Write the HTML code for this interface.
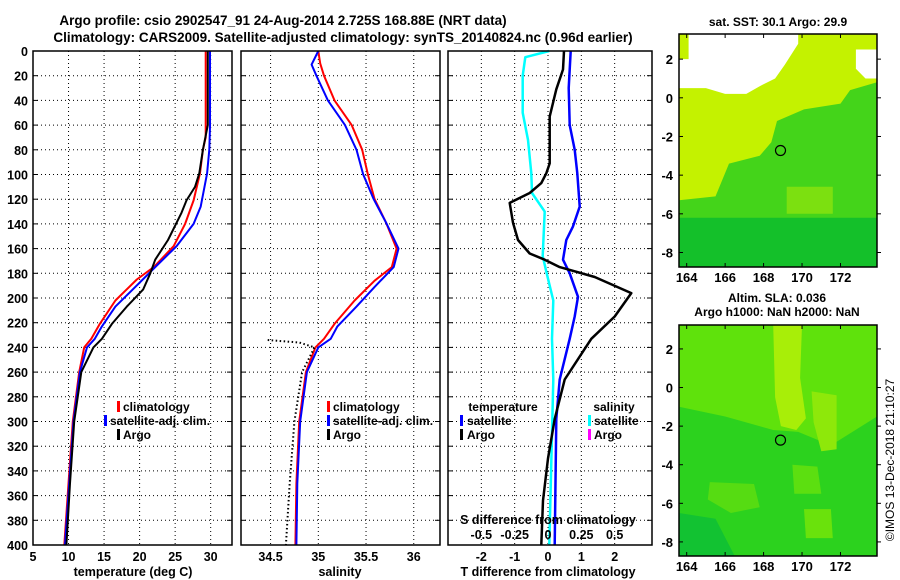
<!DOCTYPE html>
<html><head><meta charset="utf-8">
<style>
html,body{margin:0;padding:0;background:#fff;}
svg{display:block;font-family:"Liberation Sans",sans-serif;font-weight:bold;}
</style></head>
<body>
<svg id="fig" width="900" height="580" viewBox="0 0 900 580" xmlns="http://www.w3.org/2000/svg">
<text x="283" y="25" font-size="13.5" text-anchor="middle">Argo profile: csio 2902547_91 24-Aug-2014 2.725S 168.88E (NRT data)</text>
<text x="343" y="42" font-size="13.5" text-anchor="middle">Climatology: CARS2009. Satellite-adjusted climatology: synTS_20140824.nc (0.96d earlier)</text>
<text x="778" y="26" font-size="12" text-anchor="middle">sat. SST: 30.1 Argo: 29.9</text>
<text x="777" y="302" font-size="12" text-anchor="middle">Altim. SLA: 0.036</text>
<text x="777" y="316" font-size="12" text-anchor="middle">Argo h1000: NaN h2000: NaN</text>
<text x="0" y="0" font-size="12" font-weight="normal" text-anchor="middle" transform="translate(894,460) rotate(-90)">©IMOS 13-Dec-2018 21:10:27</text>
<g id="g"></g>
</svg>
<script>
// ---------- data ----------
const depthTicks = [0,20,40,60,80,100,120,140,160,180,200,220,240,260,280,300,320,340,360,380,400];
const tempTicks = [5,10,15,20,25,30];
const salTicks = [34.5,35,35.5,36];
const salTickLabels = ['34.5','35','35.5','36'];
const dTTicks = [-2,-1,0,1,2];
const dSTickLabels = ['-0.5','-0.25','0','0.25','0.5'];
const dSTicks = [-0.5,-0.25,0,0.25,0.5];
const lonTicks = [164,166,168,170,172];
const latTicks = [2,0,-2,-4,-6,-8];

const climTDepth = [0,70,80,99,121,140,158,175,185,202,221,233,240,260,300,350,400];
const climT = [29.3,29.3,28.9,28.5,27.6,26.4,24.8,22.0,19.6,16.6,14.4,13.2,12.2,11.5,10.6,10.0,9.4];
const satTDepth = [0,61,80,99,126,140,158,175,191,207,223,233,240,260,300,350,400];
const satT = [29.9,29.9,29.8,29.5,28.6,27.6,25.2,22.2,19.4,16.6,14.7,13.7,12.6,11.6,10.7,10.1,9.5];
const argoTDepth = [0,60,80,99,110,121,131,153,169,180,193,207,221,233,240,260,300,350,400];
const argoT = [29.6,29.6,28.9,28.4,27.8,26.6,25.9,24.0,22.2,21.5,20.5,18.2,16.1,14.7,13.5,11.8,10.8,10.2,9.7];

const climSDepth = [0,10,20,40,60,80,100,120,139,160,175,186,202,221,233,240,260,300,350,400];
const climS = [35.0,35.02,35.06,35.17,35.35,35.46,35.52,35.59,35.71,35.82,35.77,35.59,35.38,35.17,35.06,34.97,34.87,34.8,34.77,34.76];
const satSDepth = [0,11,20,40,60,80,100,120,139,160,175,191,207,223,233,240,260,300,350,400];
const satS = [35.0,34.93,34.98,35.1,35.28,35.4,35.47,35.58,35.71,35.84,35.79,35.59,35.4,35.2,35.13,35.0,34.88,34.81,34.78,34.77];
const argoSDepth = [234,236,240,260,300,350,400];
const argoS = [34.47,34.8,34.96,34.83,34.75,34.7,34.66];

const argoDTDepth = [0,15,31,53,91,99,107,115,123,139,153,164,169,175,183,196,215,233,266,298,330,364,400];
const argoDT = [0.48,0.45,0.25,0.05,0.05,-0.05,-0.2,-0.55,-1.15,-1.05,-0.9,-0.55,-0.1,0.35,1.4,2.5,2.0,1.3,0.5,0.2,0.0,-0.15,-0.2];
const satDTDepth = [0,30,60,80,99,126,142,153,169,180,199,215,233,266,298,400];
const satDT = [0.68,0.62,0.65,0.8,0.88,0.95,0.75,0.55,0.45,0.65,0.9,0.8,0.65,0.35,0.25,0.2];
const satDSDepth = [0,5,20,50,72,99,115,130,166,180,202,233,266,400];
const satDS = [0.01,-0.17,-0.19,-0.19,-0.15,-0.125,-0.12,-0.025,-0.04,-0.01,0.04,0.03,0.04,0.01];

const argoLon = 168.88;
const argoLat = -2.725;

// ---------- helpers ----------
const NS = 'http://www.w3.org/2000/svg';
const G = document.getElementById('g');
function mk(tag, attrs, parent){
  const e = document.createElementNS(NS, tag);
  for (const k in attrs) e.setAttribute(k, attrs[k]);
  (parent||G).appendChild(e);
  return e;
}
const TOP = 51, BOT = 545;
const yD = d => TOP + (d/400)*(BOT-TOP);
const P1 = {x0:33, x1:232, v0:5, v1:33};
const P2 = {x0:241, x1:440, v0:34.19, v1:36.275};
const P3 = {x0:448, x1:652, v0:-3.0, v1:3.12};
const sx = (P, v) => P.x0 + (v-P.v0)/(P.v1-P.v0)*(P.x1-P.x0);
const xDS = s => sx(P3, s*4);

function panel(P, name, xt){
  for (const d of depthTicks.slice(1,-1)){
    const l = mk('line',{x1:P.x0,x2:P.x1,y1:yD(d),y2:yD(d),stroke:'#000','stroke-width':1,'stroke-dasharray':'1 3'});
    
    
    const t1 = mk('line',{x1:P.x0,x2:P.x0+5,y1:yD(d),y2:yD(d),stroke:'#000'});
    
    
    const t2 = mk('line',{x1:P.x1-5,x2:P.x1,y1:yD(d),y2:yD(d),stroke:'#000'});
    
    
  }
  for (const v of xt){
    const x = sx(P,v);
    if (x > P.x0+2 && x < P.x1-2){
      const l = mk('line',{x1:x,x2:x,y1:TOP,y2:BOT,stroke:'#000','stroke-width':1,'stroke-dasharray':'1 3'});
      
      
    }
  }
}
function frame(P, name){
  const r = mk('rect',{x:P.x0,y:TOP,width:P.x1-P.x0,height:BOT-TOP,fill:'none',stroke:'#000','stroke-width':1.5});
  
  
}
function line(xs, ds, xf, color, w, name, dash){
  const pts = xs.map((v,i)=> xf(v).toFixed(1)+','+yD(ds[i]).toFixed(1)).join(' ');
  const a = {points:pts,fill:'none',stroke:color,'stroke-width':w,'stroke-linejoin':'round'};
  if (dash) a['stroke-dasharray'] = dash;
  const p = mk('polyline', a);
  
  
}
function txt(x,y,s,name,anchor,size){
  const t = mk('text',{x:x,y:y,'font-size':size||12.5,'text-anchor':anchor||'middle'});
  t.textContent = s;
  
  
  return t;
}
function legBar(x,y,color,name){
  const r = mk('rect',{x:x,y:y-10,width:3,height:11,fill:color});
  
  
}

// ---------- panel 1: temperature ----------
panel(P1,'temp-panel',tempTicks);
line(climT, climTDepth, v=>sx(P1,v), '#ff0000', 2, 'temp-climatology-line');
line(satT, satTDepth, v=>sx(P1,v), '#0000ff', 2, 'temp-satellite-line');
line(argoT, argoTDepth, v=>sx(P1,v), '#000000', 2, 'temp-argo-line');
frame(P1,'temp-panel');
for (const d of depthTicks) txt(28, yD(d)+5, String(d), 'depth-tick-label', 'end');
for (const v of tempTicks) txt(sx(P1,v), 561, String(v), 'temp-tick-label');
txt(133, 576, 'temperature (deg C)', 'temp-axis-title');
legBar(117,411,'#ff0000','legend-climatology-swatch'); txt(123,411,'climatology','legend-climatology','start',12);
legBar(104,425,'#0000ff','legend-satellite-swatch'); txt(110,425,'satellite-adj. clim.','legend-satellite','start',12);
legBar(117,439,'#000000','legend-argo-swatch'); txt(123,439,'Argo','legend-argo','start',12);

// ---------- panel 2: salinity ----------
panel(P2,'sal-panel',salTicks);
line(climS, climSDepth, v=>sx(P2,v), '#ff0000', 2, 'sal-climatology-line');
line(satS, satSDepth, v=>sx(P2,v), '#0000ff', 2, 'sal-satellite-line');
line(argoS, argoSDepth, v=>sx(P2,v), '#000000', 2, 'sal-argo-line', '1.5 2.5');
frame(P2,'sal-panel');
salTicks.forEach((v,i)=> txt(sx(P2,v), 561, salTickLabels[i], 'sal-tick-label'));
txt(340, 576, 'salinity', 'sal-axis-title');
legBar(327,411,'#ff0000','legend2-climatology-swatch'); txt(333,411,'climatology','legend2-climatology','start',12);
legBar(327,425,'#0000ff','legend2-satellite-swatch'); txt(333,425,'satellite-adj. clim.','legend2-satellite','start',12);
legBar(327,439,'#000000','legend2-argo-swatch'); txt(333,439,'Argo','legend2-argo','start',12);

// ---------- panel 3: differences ----------
panel(P3,'diff-panel',dTTicks);
line(satDS, satDSDepth, xDS, '#00ffff', 2.5, 'sal-diff-satellite-line');
line(satDT, satDTDepth, v=>sx(P3,v), '#0000ff', 2.5, 'temp-diff-satellite-line');
line(argoDT, argoDTDepth, v=>sx(P3,v), '#000000', 2.5, 'temp-diff-argo-line');
frame(P3,'diff-panel');
for (const v of dTTicks) txt(sx(P3,v), 561, String(v), 'tdiff-tick-label');
txt(548, 576, 'T difference from climatology', 'tdiff-axis-title');
txt(548, 524, 'S difference from climatology', 'sdiff-axis-title');
dSTicks.forEach((v,i)=> txt(xDS(v), 539, dSTickLabels[i], 'sdiff-tick-label'));
txt(503, 411, 'temperature', 'legend3-temperature-header', 'middle', 12);
legBar(460,425,'#0000ff','legend3-temp-satellite-swatch'); txt(467,425,'satellite','legend3-temp-satellite','start',12);
legBar(460,439,'#000000','legend3-temp-argo-swatch'); txt(467,439,'Argo','legend3-temp-argo','start',12);
txt(614, 411, 'salinity', 'legend3-salinity-header', 'middle', 12);
legBar(588,425,'#00ffff','legend3-sal-satellite-swatch'); txt(594,425,'satellite','legend3-sal-satellite','start',12);
legBar(588,439,'#ff00ff','legend3-sal-argo-swatch'); txt(594,439,'Argo','legend3-sal-argo','start',12);

// ---------- maps ----------
const LON0 = 163.6, LON1 = 173.9;
function mapAxes(M, name){
  M.mx = lon => M.x0 + (lon-LON0)/(LON1-LON0)*(M.x1-M.x0);
  M.my = lat => M.y0 + (M.la0-lat)/(M.la0-M.la1)*(M.y1-M.y0);
}
const M1 = {x0:679,x1:877,y0:34,y1:267,la0:3.3,la1:-8.75};
const M2 = {x0:679,x1:877,y0:325,y1:556,la0:3.24,la1:-8.73};
mapAxes(M1); mapAxes(M2);
function poly(M, lonlat, color, name){
  const pts = lonlat.map(p=> M.mx(p[0]).toFixed(1)+','+M.my(p[1]).toFixed(1)).join(' ');
  const p = mk('polygon',{points:pts,fill:color});
  
  
}
function mapFrameTicks(M, name){
  const r = mk('rect',{x:M.x0,y:M.y0,width:M.x1-M.x0,height:M.y1-M.y0,fill:'none',stroke:'#000','stroke-width':1.5});
  
  
  for (const lo of lonTicks){
    const t = mk('line',{x1:M.mx(lo),x2:M.mx(lo),y1:M.y1,y2:M.y1-4,stroke:'#000'});
    
    
    const t2 = mk('line',{x1:M.mx(lo),x2:M.mx(lo),y1:M.y0,y2:M.y0+4,stroke:'#000'});
    
    
    txt(M.mx(lo), M.y1+15, String(lo), name+'-lon-label', 'middle', 13);
  }
  for (const la of latTicks){
    const t = mk('line',{x1:M.x0,x2:M.x0+4,y1:M.my(la),y2:M.my(la),stroke:'#000'});
    
    
    const t2 = mk('line',{x1:M.x1,x2:M.x1+4,y1:M.my(la),y2:M.my(la),stroke:'#000'});
    
    
    txt(M.x0-6, M.my(la)+5, String(la), name+'-lat-label', 'end', 13);
  }
  const c = mk('circle',{cx:M.mx(argoLon),cy:M.my(argoLat),r:5,fill:'none',stroke:'#000','stroke-width':1.2});
  
  
}
// SST map
poly(M1, [[163.6,3.3],[173.9,3.3],[173.9,-8.75],[163.6,-8.75]], '#c4f200', 'sst-warm-region');
poly(M1, [[163.6,-5.3],[165.5,-5.1],[166.2,-3.4],[167.8,-3.0],[168.4,-2.3],[168.7,-1.2],[170.1,-0.6],[172.0,-0.3],[172.5,0.4],[173.9,0.8],[173.9,-8.75],[163.6,-8.75]], '#44d41a', 'sst-cool-region');
poly(M1, [[163.6,-6.2],[173.9,-6.2],[173.9,-8.75],[163.6,-8.75]], '#14c02a', 'sst-coolest-region');
poly(M1, [[169.2,-4.6],[171.6,-4.6],[171.6,-6.0],[169.2,-6.0]], '#7ce010', 'sst-mid-patch');
poly(M1, [[164.1,3.3],[169.8,3.3],[169.8,2.8],[169.1,1.7],[168.6,1.0],[167.8,0.6],[167.1,0.2],[166.0,0.2],[165.0,0.5],[163.6,0.5],[163.6,2.0],[164.1,2.0]], '#ffffff', 'sst-missing-data');
poly(M1, [[172.8,2.5],[173.9,2.5],[173.9,1.0],[173.3,1.0],[172.8,1.5]], '#ffffff', 'sst-missing-data-east');
// SLA map
poly(M2, [[163.6,3.24],[173.9,3.24],[173.9,-8.73],[163.6,-8.73]], '#2cd21e', 'sla-base');
poly(M2, [[163.6,3.24],[173.9,3.24],[173.9,-1.5],[171.5,-3.0],[169.8,-2.3],[168.5,-2.2],[166.0,-1.5],[163.6,-1.0]], '#5fe20c', 'sla-high-region');
poly(M2, [[168.5,3.24],[170.0,3.24],[169.9,0.5],[170.2,-1.6],[169.7,-2.2],[168.9,-2.0],[168.6,-0.5]], '#a8ee08', 'sla-ridge');
poly(M2, [[170.5,-0.2],[171.8,-0.4],[171.8,-3.2],[171.0,-3.3],[170.6,-1.8]], '#8ee80a', 'sla-east-ridge');
poly(M2, [[165.2,-4.9],[167.5,-5.0],[167.8,-6.2],[166.3,-6.5],[165.1,-5.8]], '#56dc12', 'sla-southwest-blob');
poly(M2, [[169.5,-4.0],[170.8,-4.1],[171.0,-5.5],[169.6,-5.5]], '#5cdf10', 'sla-south-blob');
poly(M2, [[170.1,-6.3],[171.5,-6.3],[171.6,-7.8],[170.2,-7.8]], '#6ae20c', 'sla-far-south-blob');
poly(M2, [[163.6,-6.5],[165.5,-6.8],[166.5,-8.73],[163.6,-8.73]], '#12c232', 'sla-low-region');
mapFrameTicks(M1,'sst-map');
mapFrameTicks(M2,'sla-map');
</script>
</body></html>
